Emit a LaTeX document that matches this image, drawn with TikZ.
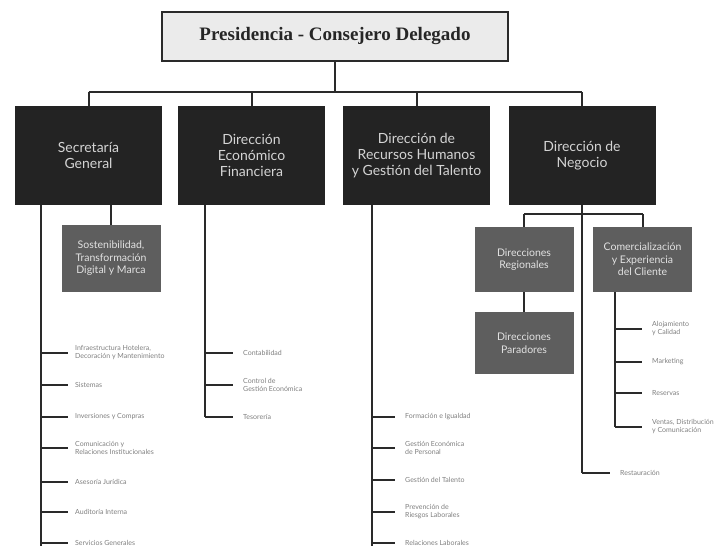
\documentclass[tikz,border=0pt]{standalone}
\usepackage{fontspec}
\setmainfont{Lato}
\newfontfamily\titlefont{Liberation Serif}
\definecolor{boxblack}{HTML}{232323}
\definecolor{boxtext}{HTML}{D4D4D4}
\definecolor{boxgray}{HTML}{5E5E5E}
\definecolor{subtext}{HTML}{E2E2E2}
\definecolor{linec}{HTML}{2A2A2A}
\definecolor{leafgray}{HTML}{808080}
\definecolor{topfill}{HTML}{EBEBEB}
\begin{document}
\begin{tikzpicture}[x=1pt,y=-1pt,
  topbox/.style={draw=linec, line width=1.8pt, fill=topfill, minimum width=346pt, minimum height=49pt, inner sep=0pt,
    font=\titlefont\bfseries\fontsize{19}{21}\selectfont, text=black!85},
  dirbox/.style={fill=boxblack, minimum width=147pt, minimum height=99pt, inner sep=0pt, text=boxtext, align=center,
    font=\fontsize{14}{16}\selectfont},
  subbox/.style={fill=boxgray, minimum width=99pt, inner sep=0pt, text=subtext, align=center,
    font=\fontsize{10.5}{12.5}\selectfont},
  leaf/.style={anchor=west, inner sep=0pt, align=left, text=leafgray, font=\fontsize{7}{8}\selectfont},
  link/.style={draw=linec, line width=2pt},
  stub/.style={draw=linec, line width=2.3pt}]
\useasboundingbox (0,0) rectangle (718,546);
\fill[white] (0,0) rectangle (718,546);

% top
\node[topbox] (pres) at (335,36.5) {Presidencia - Consejero Delegado};

% directorates
\node[dirbox] (sg)  at (88.5,155.5)  {Secretaría\\General};
\node[dirbox] (def) at (251.5,155.5) {Dirección\\Económico\\Financiera};
\node[dirbox] (rh)  at (416.5,155.5) {Dirección de\\Recursos Humanos\\y Gestión del Talento};
\node[dirbox] (neg) at (582,155.5)   {Dirección de\\Negocio};

\coordinate (bus) at (0,92);
\draw[link] (pres.south) -- (pres.south |- bus);
\draw[link] (sg.north |- bus) -- (neg.north |- bus);
\foreach \b in {sg,def,rh,neg} \draw[link] (\b.north |- bus) -- (\b.north);

% sub boxes
\node[subbox, minimum height=67pt] (sost) at (111,258.5) {Sostenibilidad,\\Transformación\\Digital y Marca};
\node[subbox, minimum height=65pt] (reg) at (524,259.5) {Direcciones\\Regionales};
\node[subbox, minimum height=62pt] (par) at (524,343) {Direcciones\\Paradores};
\node[subbox, minimum height=65pt] (com) at (642.5,259.5) {Comercialización\\y Experiencia\\del Cliente};

\draw[link] (sg.south -| sost.north) -- (sost.north);
\draw[link] (reg.south) -- (par.north);
\coordinate (nbus) at (0,214);
\draw[link] (reg.north |- nbus) -- (com.north |- nbus);
\draw[link] (reg.north |- nbus) -- (reg.north);
\draw[link] (com.north |- nbus) -- (com.north);

% Secretaria General leaves
\coordinate (sgT) at (41,0);
\node[leaf] (sg1) at (75,353) {Infraestructura Hotelera,\\Decoración y Mantenimiento};
\node[leaf] (sg2) at (75,385) {Sistemas};
\node[leaf] (sg3) at (75,417) {Inversiones y Compras};
\node[leaf] (sg4) at (75,448) {Comunicación y\\Relaciones Institucionales};
\node[leaf] (sg5) at (75,482) {Asesoría Jurídica};
\node[leaf] (sg6) at (75,512) {Auditoría Interna};
\node[leaf] (sg7) at (75,543) {Servicios Generales};
\coordinate (sgEnd) at (41,546);
\draw[link] (sg.south -| sgT) -- (sgEnd);
\foreach \n in {sg1,sg2,sg3,sg4,sg5,sg6,sg7}
  \draw[stub] (\n.west -| sgT) -- ([xshift=-7pt]\n.west);

% Economico Financiera leaves
\coordinate (defT) at (205,0);
\node[leaf] (df1) at (243,353) {Contabilidad};
\node[leaf] (df2) at (243,385) {Control de\\Gestión Económica};
\node[leaf] (df3) at (243,417) {Tesorería};
\draw[link] (def.south -| defT) -- (df3.west -| defT);
\foreach \n in {df1,df2,df3}
  \draw[stub] (\n.west -| defT) -- ([xshift=-10pt]\n.west);

% RRHH leaves
\coordinate (rhT) at (372,0);
\node[leaf] (rh1) at (405,417) {Formación e Igualdad};
\node[leaf] (rh2) at (405,448) {Gestión Económica\\de Personal};
\node[leaf] (rh3) at (405,480) {Gestión del Talento};
\node[leaf] (rh4) at (405,512) {Prevención de\\Riesgos Laborales};
\node[leaf] (rh5) at (405,543) {Relaciones Laborales};
\coordinate (rhEnd) at (372,546);
\draw[link] (rh.south -| rhT) -- (rhEnd);
\foreach \n in {rh1,rh2,rh3,rh4,rh5}
  \draw[stub] (\n.west -| rhT) -- ([xshift=-10pt]\n.west);

% Comercializacion leaves
\coordinate (comT) at (615,0);
\node[leaf] (cm1) at (652,329) {Alojamiento\\y Calidad};
\node[leaf] (cm2) at (652,362) {Marketing};
\node[leaf] (cm3) at (652,393) {Reservas};
\node[leaf] (cm4) at (652,427) {Ventas, Distribución\\y Comunicación};
\draw[link] (com.south -| comT) -- (cm4.west -| comT);
\foreach \n in {cm1,cm2,cm3,cm4}
  \draw[stub] (\n.west -| comT) -- ([xshift=-10pt]\n.west);

% Negocio trunk and Restauracion
\node[leaf] (rest) at (620,473) {Restauración};
\draw[link] (neg.south) -- (rest.west -| neg.south);
\draw[stub] (rest.west -| neg.south) -- ([xshift=-10pt]rest.west);
\end{tikzpicture}
\end{document}
